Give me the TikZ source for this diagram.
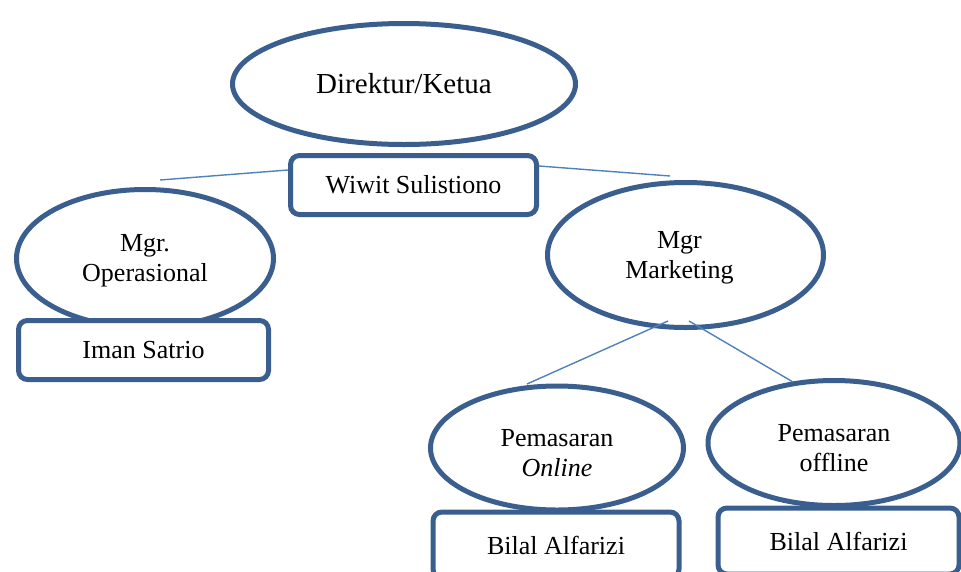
\documentclass[tikz,border=0pt]{standalone}
\usepackage{fontspec}
\setmainfont{Liberation Serif}
\usetikzlibrary{shapes.geometric}
\definecolor{outl}{HTML}{3A5F8F}
\definecolor{conn}{HTML}{4F81BD}
\newcommand{\twolines}[4]{\hspace*{#1}\begin{tabular}{@{}c@{}}\rule{0pt}{#2}#3\\#4\end{tabular}}
\tikzset{
  oval/.style={ellipse, draw=outl, line width=5pt, fill=white, inner sep=0pt, align=center,
    font=\fontsize{26}{30}\selectfont},
  namebox/.style={rectangle, rounded corners=9pt, draw=outl, line width=5pt, fill=white, inner sep=0pt,
    font=\fontsize{26}{30}\selectfont},
  conline/.style={draw=conn, line width=1.4pt}
}
\begin{document}
\begin{tikzpicture}[x=1pt,y=-1pt]
\useasboundingbox (0,0) rectangle (961,571);
% ellipses
\node[oval, minimum width=343pt, minimum height=121pt, font=\fontsize{29}{33}\selectfont] (dir) at (404,84) {Direktur/Ketua};
\node[oval, minimum width=257pt, minimum height=138pt] (ops) at (145,258.5) {\twolines{0pt}{25pt}{Mgr.}{Operasional}};
\node[oval, minimum width=276pt, minimum height=145pt] (mkt) at (685.5,255) {\twolines{-12pt}{25pt}{Mgr}{Marketing}};
\coordinate (m1) at (668,321);
\coordinate (m2) at (689,321);
\coordinate (p1) at (527,384);
\coordinate (p2) at (793,382);
\node[oval, minimum width=253pt, minimum height=124pt] (onl) at (557,448) {\twolines{0pt}{36pt}{Pemasaran}{\textit{Online}}};
\node[oval, minimum width=252pt, minimum height=125pt] (off) at (834,443) {\twolines{0pt}{36pt}{Pemasaran}{offline}};
\draw[conline] (m1) -- (p1);
\draw[conline] (m2) -- (p2);
% boxes
\node[namebox, minimum width=246pt, minimum height=59pt] (wiwit) at (413.5,185) {Wiwit Sulistiono};
\node[namebox, minimum width=250pt, minimum height=59pt] (iman) at (143.5,350) {Iman Satrio};
\node[namebox, minimum width=246pt, minimum height=66pt] (bil1) at (556,545) {Bilal Alfarizi};
\node[namebox, minimum width=241pt, minimum height=66pt] (bil2) at (838.5,541) {Bilal Alfarizi};
% connectors from the top box
\coordinate (lf) at (160,180);
\coordinate (rf) at (670,176);
\draw[conline] (lf) -- (wiwit.west|-0,170);
\draw[conline] (wiwit.east|-0,166) -- (rf);
\end{tikzpicture}
\end{document}
